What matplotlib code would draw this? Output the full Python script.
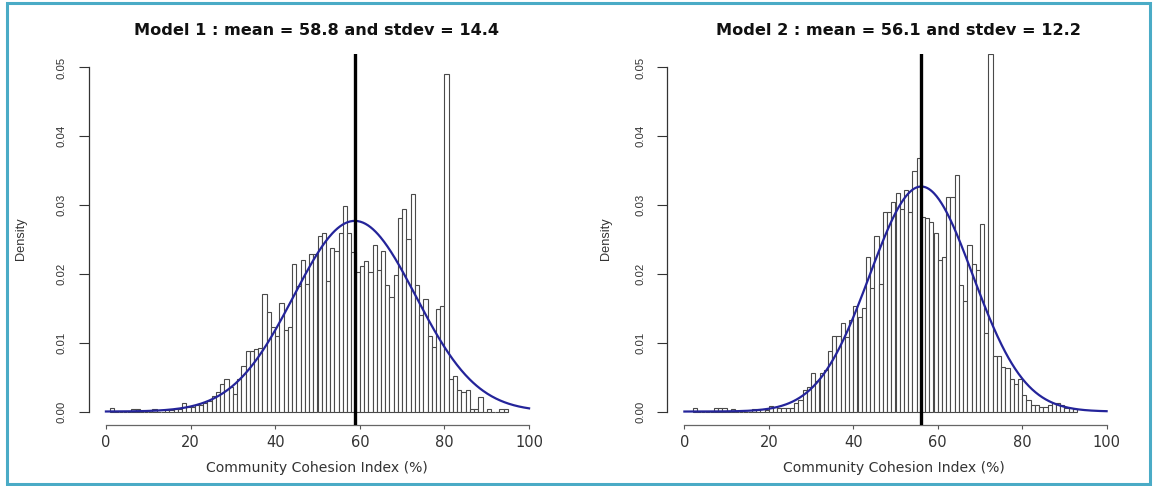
import numpy as np
import matplotlib
matplotlib.use("Agg")
import matplotlib.pyplot as plt
from matplotlib.patches import Rectangle

W, H = 1157, 486

# ---------------- data ----------------
titles = ["Model 1 : mean = 58.8 and stdev = 14.4",
          "Model 2 : mean = 56.1 and stdev = 12.2"]
x_label = "Community Cohesion Index (%)"
y_label = "Density"
x_ticks = [0, 20, 40, 60, 80, 100]
y_ticks = [0.00, 0.01, 0.02, 0.03, 0.04, 0.05]
y_tick_labels = ["0.00", "0.01", "0.02", "0.03", "0.04", "0.05"]

mean1, sd1 = 58.8, 14.4
mean2, sd2 = 56.1, 12.2

# Model 1: density of unit-width bins, first bin starts at 1
first_bin1 = 1
density1 = [
    0.0005, 0, 0, 0, 0, 0.0004, 0.0004, 0, 0, 0,            # 1-10
    0.0003, 0, 0, 0.0002, 0.0002, 0.0003, 0.0004, 0.0012, 0.0007, 0.0007,  # 11-20
    0.0009, 0.0010, 0.0012, 0.0016, 0.0022, 0.0028, 0.0040, 0.0048, 0.0036, 0.0026,  # 21-30
    0.0048, 0.0066, 0.0088, 0.0088, 0.0091, 0.0092, 0.0171, 0.0145, 0.0123, 0.0110,  # 31-40
    0.0158, 0.0118, 0.0123, 0.0215, 0.0183, 0.0220, 0.0186, 0.0229, 0.0229, 0.0255,  # 41-50
    0.0259, 0.0190, 0.0237, 0.0234, 0.0260, 0.0298, 0.0260, 0.0232, 0.0203, 0.0212,  # 51-60
    0.0219, 0.0203, 0.0242, 0.0206, 0.0233, 0.0184, 0.0166, 0.0198, 0.0281, 0.0294,  # 61-70
    0.0250, 0.0316, 0.0184, 0.0140, 0.0163, 0.0110, 0.0094, 0.0149, 0.0154, 0.0490,  # 71-80
    0.0047, 0.0052, 0.0031, 0.0028, 0.0031, 0.0004, 0.0004, 0.0021, 0, 0.0003,       # 81-90
    0, 0, 0.0003, 0.0003,                                                            # 91-94
]

# Model 2: density of unit-width bins, first bin starts at 2
first_bin2 = 2
density2 = [
    0.0005, 0, 0, 0, 0, 0.0005, 0.0005, 0.0005, 0,                                   # 2-10
    0.0004, 0, 0, 0, 0, 0.0003, 0.0003, 0.0004, 0.0002, 0.0008,                      # 11-20
    0.0006, 0.0005, 0.0005, 0.0005, 0.0005, 0.0012, 0.0017, 0.0032, 0.0035, 0.0056,  # 21-30
    0.0045, 0.0056, 0.0060, 0.0088, 0.0110, 0.0110, 0.0128, 0.0109, 0.0133, 0.0153,  # 31-40
    0.0138, 0.0150, 0.0225, 0.0180, 0.0255, 0.0186, 0.0290, 0.0290, 0.0304, 0.0317,  # 41-50
    0.0295, 0.0322, 0.0290, 0.0349, 0.0368, 0.0283, 0.0281, 0.0276, 0.0260, 0.0220,  # 51-60
    0.0225, 0.0312, 0.0312, 0.0344, 0.0184, 0.0160, 0.0242, 0.0215, 0.0206, 0.0273,  # 61-70
    0.0114, 0.0520, 0.0080, 0.0080, 0.0065, 0.0063, 0.0048, 0.0040, 0.0048, 0.0024,  # 71-80
    0.0017, 0.0009, 0.0010, 0.0007, 0.0007, 0.0010, 0.0012, 0.0012, 0.0010, 0.0005,  # 81-90
    0.0005, 0.0003,                                                                  # 91-92
]

# ---------------- layout (pixels) ----------------
panels = [
    dict(x0=89.0, x1=546.0, dens=density1, first=first_bin1, mean=mean1, sd=sd1,
         title=titles[0], title_cx=316.5, xlab_cx=316.5, ylab_cx=21.5),
    dict(x0=667.5, x1=1123.5, dens=density2, first=first_bin2, mean=mean2, sd=sd2,
         title=titles[1], title_cx=898.0, xlab_cx=894.0, ylab_cx=606.0),
]
y_top, y_bot = 53.7, 425.3

fig = plt.figure(figsize=(W / 100, H / 100), dpi=100)
fig.patch.set_facecolor("white")


def fx(px):
    return px / W


def fy(py):
    return 1 - py / H


texts_to_fit = []

for p in panels:
    ax = fig.add_axes([fx(p["x0"]), fy(y_bot), (p["x1"] - p["x0"]) / W, (y_bot - y_top) / H])
    ax.set_xlim(-4, 104)
    ax.set_ylim(-0.002, 0.052)
    ax.set_facecolor("white")

    dens = np.array(p["dens"])
    lefts = p["first"] + np.arange(len(dens))
    ax.bar(lefts, dens, width=1.0, align="edge", facecolor="white",
           edgecolor="#4a4a4a", linewidth=0.8, zorder=2)

    xs = np.linspace(0, 100, 500)
    ys = np.exp(-0.5 * ((xs - p["mean"]) / p["sd"]) ** 2) / (p["sd"] * np.sqrt(2 * np.pi))
    ax.plot(xs, ys, color="#24249a", lw=1.6, zorder=3)
    ax.axvline(p["mean"], color="black", lw=2.4, zorder=4)

    for s in ["top", "right"]:
        ax.spines[s].set_visible(False)
    ax.spines["left"].set_bounds(0, 0.05)
    ax.spines["bottom"].set_bounds(0, 100)
    ax.spines["left"].set_color("#333333")
    ax.spines["bottom"].set_color("#666666")
    ax.spines["left"].set_linewidth(0.9)
    ax.spines["bottom"].set_linewidth(0.9)

    ax.set_xticks(x_ticks)
    ax.set_xticklabels([str(t) for t in x_ticks])
    ax.set_yticks(y_ticks)
    ax.set_yticklabels(y_tick_labels, rotation=90, va="center", ha="right",
                       family="Liberation Sans", fontsize=8.2, color="#333333")
    ax.tick_params(axis="y", length=7.5, width=0.8, pad=8.5, colors="#333333")
    ax.tick_params(axis="x", length=3.0, width=0.8, pad=4, labelsize=10.5,
                   colors="#555555", labelcolor="#333333")

    t = fig.text(fx(p["title_cx"]), fy(30), p["title"], ha="center", va="center",
                 fontsize=10.5, fontweight="bold", color="#111111", family="DejaVu Sans")
    texts_to_fit.append((t, 367))
    t = fig.text(fx(p["xlab_cx"]), fy(468), x_label, ha="center", va="center",
                 fontsize=9.5, color="#333333", family="DejaVu Sans")
    texts_to_fit.append((t, 223))
    fig.text(fx(p["ylab_cx"]), fy(239), y_label, ha="center", va="center",
             rotation=90, fontsize=9.2, color="#333333", family="Liberation Sans")

# fit text widths to the reference
fig.canvas.draw()
r = fig.canvas.get_renderer()
for t, target in texts_to_fit:
    w = t.get_window_extent(r).width
    t.set_fontsize(t.get_fontsize() * target / w)

# teal frame
fig.add_artist(Rectangle((fx(6.5), fy(483.5)), (1150 - 6.5) / W, (483.5 - 3.5) / H,
                         transform=fig.transFigure, fill=False,
                         edgecolor="#4aabc6", lw=2.2))

fig.savefig("out.png", dpi=100)
